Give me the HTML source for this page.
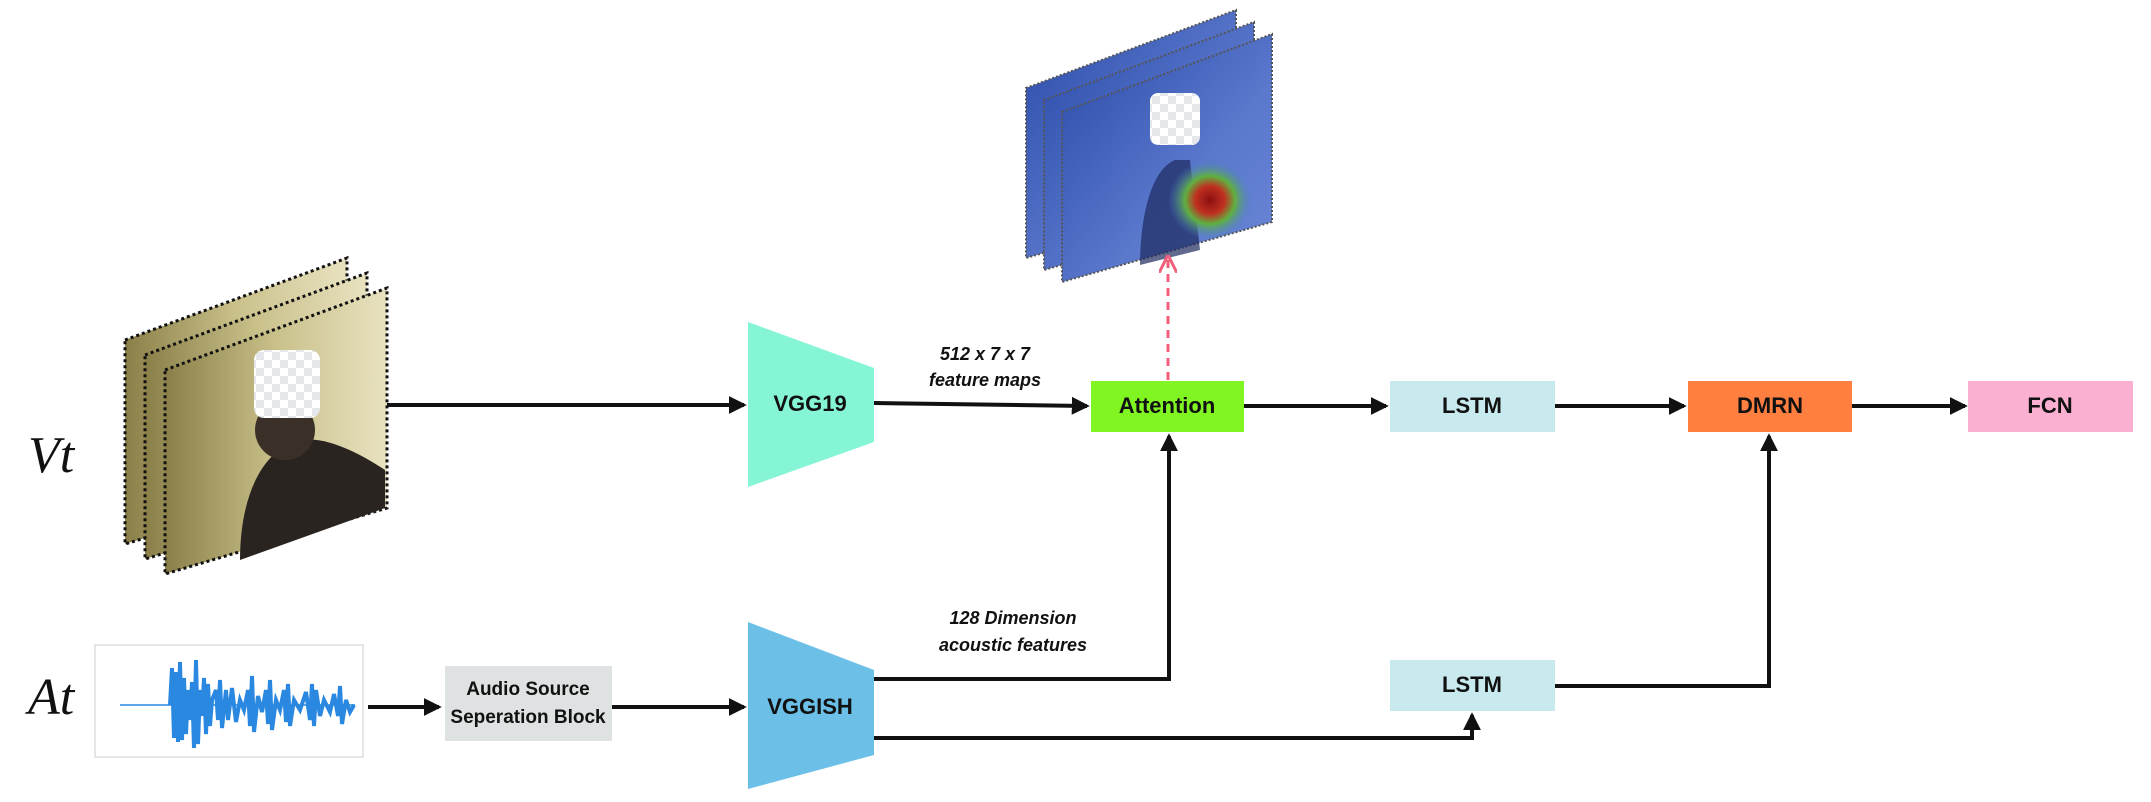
<!DOCTYPE html>
<html><head><meta charset="utf-8"><style>
html,body{margin:0;padding:0;background:#fff;width:2151px;height:802px;overflow:hidden}
svg{display:block}
.lbl{font-family:"Liberation Sans",sans-serif;font-weight:bold;font-size:22px;fill:#111;text-anchor:middle;dominant-baseline:middle}
.it{font-family:"Liberation Sans",sans-serif;font-weight:bold;font-style:italic;font-size:18px;fill:#111;text-anchor:middle}
.var{font-family:"Liberation Serif",serif;font-style:italic;font-size:52px;fill:#111}
</style></head><body>
<svg width="2151" height="802" viewBox="0 0 2151 802">
<defs>
<marker id="ah" markerWidth="4.5" markerHeight="4.5" refX="3.8" refY="2.25" orient="auto" markerUnits="strokeWidth"><path d="M0,0 L4.5,2.25 L0,4.5 z" fill="#111"/></marker>
<marker id="ahp" markerWidth="6" markerHeight="6" refX="5" refY="3" orient="auto" markerUnits="strokeWidth"><path d="M0,0 L6,3 L0,6" fill="none" stroke="#f0607a" stroke-width="1"/></marker>
<linearGradient id="vid" x1="0" y1="0" x2="1" y2="0"><stop offset="0" stop-color="#8a7f48"/><stop offset="0.5" stop-color="#c9c08a"/><stop offset="1" stop-color="#e8e2c0"/></linearGradient>
<linearGradient id="heat" x1="0" y1="0" x2="1" y2="1"><stop offset="0" stop-color="#2a4aa8"/><stop offset="0.6" stop-color="#5a78cc"/><stop offset="1" stop-color="#6a86d8"/></linearGradient>
<radialGradient id="blob"><stop offset="0" stop-color="#8a1010"/><stop offset="0.35" stop-color="#c03020"/><stop offset="0.6" stop-color="#60b040"/><stop offset="1" stop-color="#4a80c0" stop-opacity="0"/></radialGradient>
<pattern id="chk" width="16" height="16" patternUnits="userSpaceOnUse"><rect width="16" height="16" fill="#fff"/><rect width="8" height="8" fill="#e4e8ea"/><rect x="8" y="8" width="8" height="8" fill="#e4e8ea"/></pattern>
</defs>

<text class="var" x="28" y="472">Vt</text>
<text class="var" x="28" y="714">At</text>

<g>
<g transform="translate(-40,-30)"><polygon points="165,370 387,288 387,508 165,574" fill="url(#vid)" stroke="#111" stroke-width="3" stroke-dasharray="3,3"/></g>
<g transform="translate(-20,-15)"><polygon points="165,370 387,288 387,508 165,574" fill="url(#vid)" stroke="#111" stroke-width="3" stroke-dasharray="3,3"/></g>
<polygon points="165,370 387,288 387,508 165,574" fill="url(#vid)" stroke="#111" stroke-width="3" stroke-dasharray="3,3"/>
<path d="M240,560 C240,500 260,450 300,440 C330,435 370,460 385,470 L385,508 Z" fill="#2a2420"/>
<circle cx="285" cy="430" r="30" fill="#3a3028"/>
<rect x="254" y="350" width="66" height="68" rx="10" fill="url(#chk)"/>
</g>

<g>
<g transform="translate(-36,-24)"><polygon points="1062,112 1272,34 1272,222 1062,282" fill="url(#heat)" stroke="#555" stroke-width="2" stroke-dasharray="2,2"/></g>
<g transform="translate(-18,-12)"><polygon points="1062,112 1272,34 1272,222 1062,282" fill="url(#heat)" stroke="#555" stroke-width="2" stroke-dasharray="2,2"/></g>
<polygon points="1062,112 1272,34 1272,222 1062,282" fill="url(#heat)" stroke="#555" stroke-width="2" stroke-dasharray="2,2"/>
<path d="M1140,265 C1140,220 1150,170 1175,160 L1190,160 L1200,250 Z" fill="#1e2a60" opacity="0.7"/>
<ellipse cx="1210" cy="200" rx="42" ry="40" fill="url(#blob)"/>
<rect x="1150" y="93" width="50" height="52" rx="8" fill="url(#chk)"/>
</g>

<g>
<rect x="95" y="645" width="268" height="112" fill="#fff" stroke="#ccc" stroke-width="1"/>
<line x1="120" y1="705" x2="355" y2="705" stroke="#5aa8e8" stroke-width="2"/>
<path d="M170,705 L172,668 L174,738 L176,672 L178,742 L180,662 L182,740 L184,678 L186,734 L188,690 L190,720 L192,682 L194,748 L196,660 L198,744 L200,690 L202,716 L204,678 L206,734 L208,684 L210,726 L212,700 L216,690 L218,720 L220,680 L222,728 L226,690 L228,720 L232,688 L236,722 L240,700 L244,710 L248,690 L250,726 L252,676 L254,732 L258,696 L262,712 L266,690 L268,724 L270,680 L272,730 L276,700 L280,710 L284,690 L286,722 L288,684 L290,726 L294,700 L300,710 L306,692 L310,720 L312,684 L314,726 L316,690 L320,716 L324,700 L330,712 L334,694 L338,716 L340,686 L342,724 L346,700 L350,712 L354,705" fill="none" stroke="#2a88e0" stroke-width="4"/>
</g>

<g fill="none" stroke="#111" stroke-width="4">
<line x1="387" y1="405" x2="744" y2="405" marker-end="url(#ah)"/>
<line x1="874" y1="403" x2="1087" y2="406" marker-end="url(#ah)"/>
<line x1="1244" y1="406" x2="1386" y2="406" marker-end="url(#ah)"/>
<line x1="1555" y1="406" x2="1684" y2="406" marker-end="url(#ah)"/>
<line x1="1852" y1="406" x2="1965" y2="406" marker-end="url(#ah)"/>
<line x1="368" y1="707" x2="439" y2="707" marker-end="url(#ah)"/>
<line x1="612" y1="707" x2="744" y2="707" marker-end="url(#ah)"/>
<polyline points="874,679 1169,679 1169,436" marker-end="url(#ah)"/>
<polyline points="874,738 1472,738 1472,715" marker-end="url(#ah)"/>
<polyline points="1555,686 1769,686 1769,436" marker-end="url(#ah)"/>
</g>
<line x1="1168" y1="380" x2="1168" y2="258" stroke="#f0607a" stroke-width="3" stroke-dasharray="8,6" marker-end="url(#ahp)"/>

<g>
<polygon points="748,322 874,368 874,442 748,487" fill="#86f5d6"/>
<text class="lbl" x="810" y="405">VGG19</text></g>
<g>
<polygon points="748,622 874,670 874,755 748,789" fill="#6cc0e8"/>
<text class="lbl" x="810" y="708">VGGISH</text></g>

<g>
<rect x="445" y="666" width="167" height="75" fill="#dfe2e2"/>
<text class="lbl" x="528" y="690" style="font-size:19px">Audio Source</text>
<text class="lbl" x="528" y="718" style="font-size:19px">Seperation Block</text></g>

<g><rect x="1091" y="381" width="153" height="51" fill="#80f522"/><text class="lbl" x="1167" y="407">Attention</text></g>
<g><rect x="1390" y="381" width="165" height="51" fill="#c8e9ee"/><text class="lbl" x="1472" y="407">LSTM</text></g>
<g><rect x="1688" y="381" width="164" height="51" fill="#fe7f40"/><text class="lbl" x="1770" y="407">DMRN</text></g>
<g><rect x="1968" y="381" width="165" height="51" fill="#fbb0d2"/><text class="lbl" x="2050" y="407">FCN</text></g>
<g><rect x="1390" y="660" width="165" height="51" fill="#c8e9ee"/><text class="lbl" x="1472" y="686">LSTM</text></g>

<text class="it" x="985" y="360">512 x 7 x 7</text>
<text class="it" x="985" y="386">feature maps</text>
<text class="it" x="1013" y="624">128 Dimension</text>
<text class="it" x="1013" y="651">acoustic features</text>
</svg>
</body></html>
